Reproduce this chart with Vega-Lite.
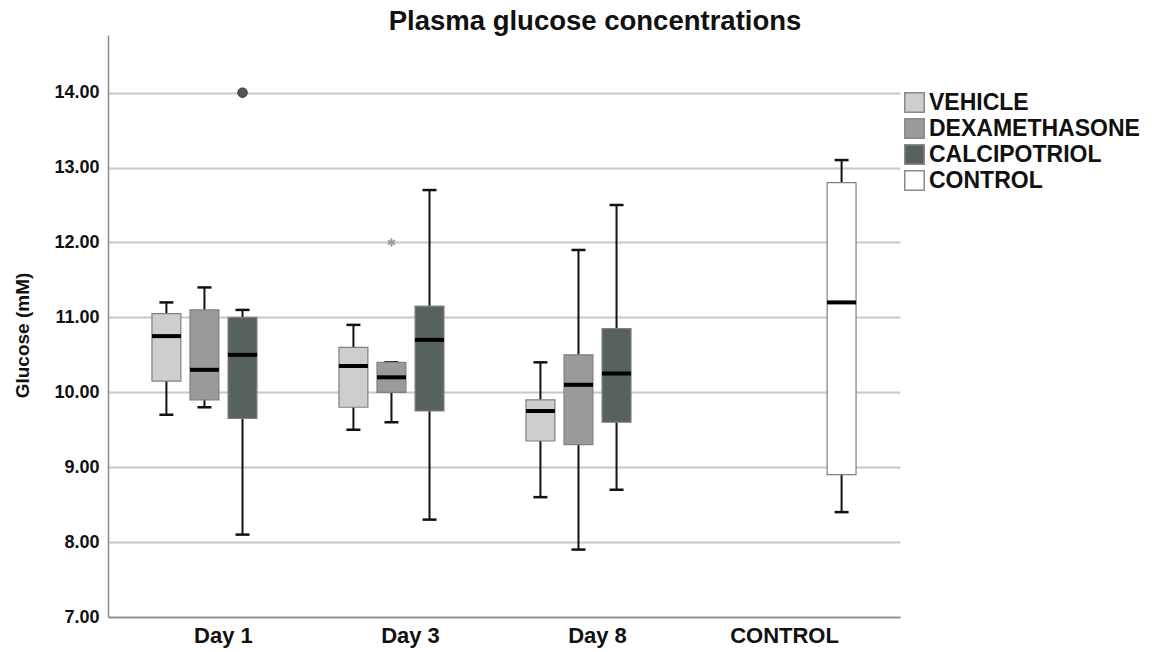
{
  "$schema": "https://vega.github.io/schema/vega-lite/v6.json",
  "width": 792,
  "height": 582,
  "autosize": {"type": "none"},
  "padding": {"left": 108, "top": 35, "right": 258, "bottom": 35},
  "background": "white",
  "title": {
    "text": "Plasma glucose concentrations",
    "font": "Liberation Sans",
    "fontSize": 27.5,
    "fontWeight": "bold",
    "color": "#111111",
    "anchor": "middle",
    "frame": "group",
    "dx": 91,
    "dy": 27,
    "baseline": "alphabetic",
    "offset": 5
  },
  "datasets": {
    "boxes": [
      {"day": "Day 1", "group": "VEHICLE", "lo": 9.7, "q1": 10.15, "med": 10.75, "q3": 11.05, "hi": 11.2},
      {"day": "Day 1", "group": "DEXAMETHASONE", "lo": 9.8, "q1": 9.9, "med": 10.3, "q3": 11.1, "hi": 11.4},
      {"day": "Day 1", "group": "CALCIPOTRIOL", "lo": 8.1, "q1": 9.65, "med": 10.5, "q3": 11.0, "hi": 11.1},
      {"day": "Day 3", "group": "VEHICLE", "lo": 9.5, "q1": 9.8, "med": 10.35, "q3": 10.6, "hi": 10.9},
      {"day": "Day 3", "group": "DEXAMETHASONE", "lo": 9.6, "q1": 10.0, "med": 10.2, "q3": 10.4, "hi": 10.4},
      {"day": "Day 3", "group": "CALCIPOTRIOL", "lo": 8.3, "q1": 9.75, "med": 10.7, "q3": 11.15, "hi": 12.7},
      {"day": "Day 8", "group": "VEHICLE", "lo": 8.6, "q1": 9.35, "med": 9.75, "q3": 9.9, "hi": 10.4},
      {"day": "Day 8", "group": "DEXAMETHASONE", "lo": 7.9, "q1": 9.3, "med": 10.1, "q3": 10.5, "hi": 11.9},
      {"day": "Day 8", "group": "CALCIPOTRIOL", "lo": 8.7, "q1": 9.6, "med": 10.25, "q3": 10.85, "hi": 12.5},
      {"day": "CONTROL", "group": "CONTROL", "lo": 8.4, "q1": 8.9, "med": 11.2, "q3": 12.8, "hi": 13.1}
    ],
    "outliers": [
      {"day": "Day 1", "group": "CALCIPOTRIOL", "value": 14.0, "kind": "outlier"},
      {"day": "Day 3", "group": "DEXAMETHASONE", "value": 12.0, "kind": "extreme"}
    ]
  },
  "encoding": {
    "x": {
      "field": "day",
      "type": "nominal",
      "sort": ["Day 1", "Day 3", "Day 8", "CONTROL"],
      "scale": {"domain": ["Day 1", "Day 3", "Day 8", "CONTROL"], "paddingInner": 0.235, "paddingOuter": 0.235},
      "axis": {
        "title": null,
        "labelAngle": 0,
        "labelFont": "Liberation Sans",
        "labelFontSize": 22,
        "labelFontWeight": "bold",
        "labelColor": "#111111",
        "labelPadding": 8,
        "ticks": false,
        "domainColor": "#8c8c8c",
        "domainWidth": 1.5,
        "grid": false
      }
    },
    "xOffset": {
      "field": "group",
      "type": "nominal",
      "scale": {"domain": ["VEHICLE", "DEXAMETHASONE", "CALCIPOTRIOL", "CONTROL"], "paddingInner": 0.24, "paddingOuter": 0}
    }
  },
  "layer": [
    {
      "data": {"name": "boxes"},
      "mark": {"type": "rule", "color": "#111111", "strokeWidth": 2, "opacity": 1},
      "encoding": {
        "y": {
          "field": "lo",
          "type": "quantitative",
          "scale": {"domain": [7, 14.77], "nice": false, "zero": false},
          "axis": {
            "title": "Glucose (mM)",
            "values": [7, 8, 9, 10, 11, 12, 13, 14],
            "format": ".2f",
            "labelFont": "Liberation Sans",
            "labelFontSize": 18,
            "labelFontWeight": "bold",
            "labelColor": "#111111",
            "labelPadding": 9,
            "ticks": false,
            "domainColor": "#8c8c8c",
            "domainWidth": 1.5,
            "grid": true,
            "gridColor": "#c8c8c8",
            "gridWidth": 1.8,
            "titleFont": "Liberation Sans",
            "titleFontSize": 19,
            "titleFontWeight": "bold",
            "titleColor": "#111111",
            "titleAngle": -90,
            "titleX": -86,
            "titleY": 300,
            "titleAlign": "center",
            "titleBaseline": "middle"
          }
        },
        "y2": {"field": "hi"}
      }
    },
    {
      "data": {"name": "boxes"},
      "mark": {"type": "tick", "color": "#111111", "thickness": 2.5, "size": 14, "opacity": 1},
      "encoding": {"y": {"field": "lo", "type": "quantitative"}}
    },
    {
      "data": {"name": "boxes"},
      "mark": {"type": "tick", "color": "#111111", "thickness": 2.5, "size": 14, "opacity": 1},
      "encoding": {"y": {"field": "hi", "type": "quantitative"}}
    },
    {
      "data": {"name": "boxes"},
      "mark": {"type": "bar", "stroke": "#808080", "strokeWidth": 1.2, "opacity": 1},
      "encoding": {
        "y": {"field": "q1", "type": "quantitative"},
        "y2": {"field": "q3"},
        "color": {
          "field": "group",
          "type": "nominal",
          "scale": {
            "domain": ["VEHICLE", "DEXAMETHASONE", "CALCIPOTRIOL", "CONTROL"],
            "range": ["#cecece", "#9a9a9a", "#58625c", "#ffffff"]
          },
          "legend": {
            "title": null,
            "orient": "none",
            "legendX": 795,
            "legendY": 56,
            "padding": 0,
            "symbolType": "square",
            "symbolSize": 380,
            "symbolStrokeColor": "#8a8a8a",
            "symbolStrokeWidth": 1.5,
            "symbolOpacity": 1,
            "labelFont": "Liberation Sans",
            "labelFontSize": 23,
            "labelFontWeight": "bold",
            "labelColor": "#111111",
            "labelOffset": 3,
            "rowPadding": -1,
            "labelLimit": 300
          }
        }
      }
    },
    {
      "data": {"name": "boxes"},
      "mark": {"type": "tick", "color": "#000000", "thickness": 4, "size": 29, "opacity": 1},
      "encoding": {"y": {"field": "med", "type": "quantitative"}}
    },
    {
      "data": {"name": "outliers"},
      "transform": [{"filter": "datum.kind === 'outlier'"}],
      "mark": {"type": "point", "shape": "circle", "filled": true, "fill": "#555555", "stroke": "#333333", "strokeWidth": 1, "size": 90, "opacity": 1},
      "encoding": {"y": {"field": "value", "type": "quantitative"}}
    },
    {
      "data": {"name": "outliers"},
      "transform": [{"filter": "datum.kind === 'extreme'"}],
      "mark": {"type": "point", "shape": "M0,-1L0,1M-0.87,-0.5L0.87,0.5M-0.87,0.5L0.87,-0.5", "filled": false, "stroke": "#9a9a9a", "strokeWidth": 1.8, "size": 70, "opacity": 1},
      "encoding": {"y": {"field": "value", "type": "quantitative"}}
    }
  ],
  "config": {
    "view": {"stroke": null},
    "font": "Liberation Sans"
  }
}
